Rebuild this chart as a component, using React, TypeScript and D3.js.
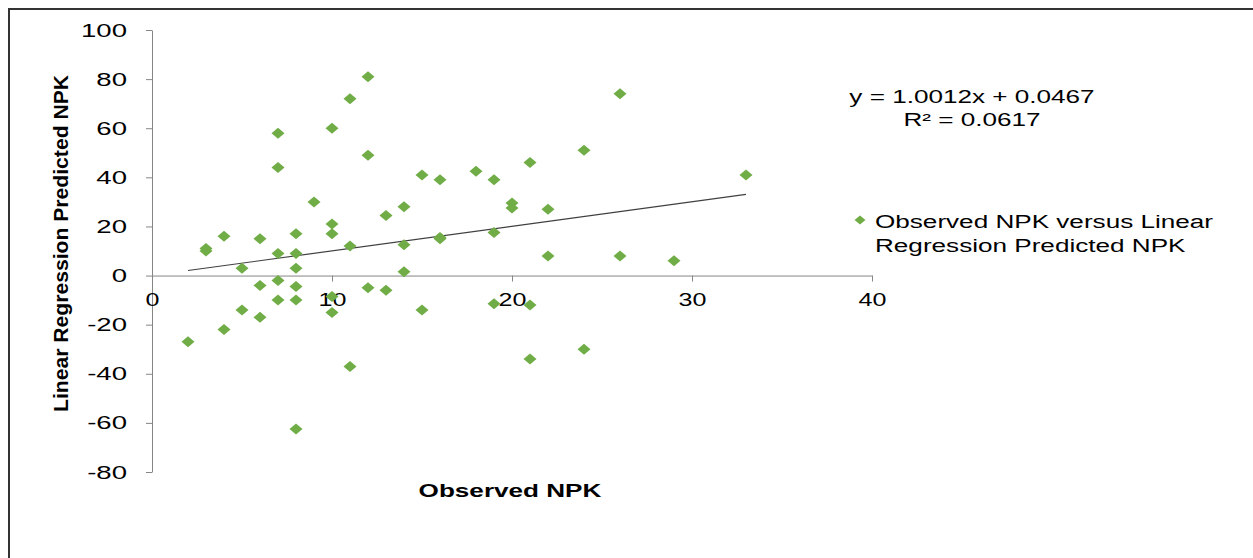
import React, { useRef, useEffect } from "react";
import * as d3 from "d3";

// observed NPK (x) and regression-predicted NPK (y)
const observed = [
  2, 3, 3, 4, 4, 5, 5, 6, 6, 6, 7, 7, 7, 7, 7, 8, 8, 8, 8, 8, 8, 9, 10, 10, 10,
  10, 10, 11, 11, 11, 12, 12, 12, 13, 13, 14, 14, 14, 15, 15, 16, 16, 16, 18,
  19, 19, 19, 20, 20, 21, 21, 21, 22, 22, 24, 24, 26, 26, 29, 33,
];
const predicted = [
  -27, 10, 11, 16, -22, 3, -14, 15, -4, -17, 58, 44, 9, -2, -10, 17, 9, 3, -4.5,
  -10, -62.5, 30, 60, 21, 17, -8.5, -15, 72, 12, -37, 81, 49, -5, 24.5, -6, 28,
  12.5, 1.5, 41, -14, 39, 15.5, 15, 42.5, 39, 17.5, -11.5, 29.5, 27.5, 46, -12,
  -34, 27, 8, 51, -30, 74, 8, 6, 41,
];

const xTicks = [0, 10, 20, 30, 40];
const yTicks = [-80, -60, -40, -20, 0, 20, 40, 60, 80, 100];

const slope = 1.0012;
const intercept = 0.0467;
const trendFrom = 2;
const trendTo = 33;

const equationLines = ["y = 1.0012x + 0.0467", "R² = 0.0617"];
const legendLines = ["Observed NPK versus Linear", "Regression Predicted NPK"];
const xTitle = "Observed NPK";
const yTitle = "Linear Regression Predicted NPK";

const W = 1253;
const H = 558;
const FONT = "Arial, 'Liberation Sans', sans-serif";
const GREEN = "#70ad47";
const AXIS = "#868686";
const STRETCH = 1.45; // the picture is widened horizontally

// widen text like the reference
const widen = (sel: any, k = STRETCH) => {
  sel.each(function (this: any) {
    const len = this.getComputedTextLength();
    d3.select(this)
      .attr("textLength", len * k)
      .attr("lengthAdjust", "spacingAndGlyphs");
  });
};

const App = () => {
  const ref = useRef<SVGSVGElement>(null);

  useEffect(() => {
    const svg = d3.select(ref.current);
    svg.selectAll("*").remove();

    const x = d3.scaleLinear().domain([0, 40]).range([152, 872]);
    const y = d3.scaleLinear().domain([-80, 100]).range([472, 30]);

    // chart frame
    svg
      .append("rect")
      .attr("x", 9)
      .attr("y", 9)
      .attr("width", W)
      .attr("height", H)
      .attr("fill", "none")
      .attr("stroke", "#333")
      .attr("stroke-width", 2);

    // y axis
    const yAxis = svg
      .append("g")
      .attr("transform", `translate(${x(0)},0)`)
      .call(
        d3
          .axisLeft(y)
          .tickValues(yTicks)
          .tickSize(6)
          .tickSizeOuter(0)
          .tickPadding(19)
          .tickFormat((d) => String(d))
      );

    // x axis through y = 0
    const xAxis = svg
      .append("g")
      .attr("transform", `translate(0,${y(0)})`)
      .call(
        d3
          .axisBottom(x)
          .tickValues(xTicks)
          .tickSize(6)
          .tickSizeOuter(0)
          .tickPadding(11)
          .tickFormat((d) => String(d))
      );

    [xAxis, yAxis].forEach((g) => {
      g.select(".domain").attr("stroke", AXIS);
      g.selectAll(".tick line").attr("stroke", AXIS);
      g.selectAll(".tick text")
        .attr("fill", "#000")
        .attr("font-family", FONT)
        .attr("font-size", 19);
    });
    yAxis.selectAll(".tick text").call(widen);
    xAxis.selectAll(".tick text").call(widen, 1.32);

    // trendline
    svg
      .append("line")
      .attr("x1", x(trendFrom))
      .attr("y1", y(slope * trendFrom + intercept))
      .attr("x2", x(trendTo))
      .attr("y2", y(slope * trendTo + intercept))
      .attr("stroke", "#404040")
      .attr("stroke-width", 1.2);

    // points
    svg
      .append("g")
      .selectAll("path")
      .data(observed)
      .enter()
      .append("path")
      .attr("d", "M0,-5.5L6.5,0L0,5.5L-6.5,0Z")
      .attr("fill", GREEN)
      .attr("transform", (d, i) => `translate(${x(d)},${y(predicted[i])})`);

    // equation
    svg
      .append("g")
      .selectAll("text")
      .data(equationLines)
      .enter()
      .append("text")
      .attr("x", 972)
      .attr("y", (d, i) => 103 + i * 23)
      .attr("text-anchor", "middle")
      .attr("font-family", FONT)
      .attr("font-size", 18)
      .attr("fill", "#000")
      .text((d) => d)
      .call(widen);

    // legend
    svg
      .append("path")
      .attr("d", "M0,-4.5L5.5,0L0,4.5L-5.5,0Z")
      .attr("fill", GREEN)
      .attr("transform", "translate(860,220)");
    svg
      .append("g")
      .selectAll("text")
      .data(legendLines)
      .enter()
      .append("text")
      .attr("x", 875)
      .attr("y", (d, i) => 228 + i * 24)
      .attr("font-family", FONT)
      .attr("font-size", 18)
      .attr("fill", "#000")
      .text((d) => d)
      .call(widen);

    // axis titles
    svg
      .append("text")
      .attr("x", 510)
      .attr("y", 497)
      .attr("text-anchor", "middle")
      .attr("font-family", FONT)
      .attr("font-size", 18)
      .attr("font-weight", "bold")
      .attr("fill", "#000")
      .text(xTitle)
      .call(widen);

    svg
      .append("text")
      .attr("transform", "translate(68,243.5) rotate(-90)")
      .attr("text-anchor", "middle")
      .attr("font-family", FONT)
      .attr("font-size", 20)
      .attr("font-weight", "bold")
      .attr("fill", "#000")
      .attr("textLength", 337)
      .attr("lengthAdjust", "spacingAndGlyphs")
      .text(yTitle);
  }, []);

  return (
    <svg
      ref={ref}
      width={W}
      height={H}
      style={{ position: "absolute", left: 0, top: 0, background: "#fff" }}
    />
  );
};

export default App;
